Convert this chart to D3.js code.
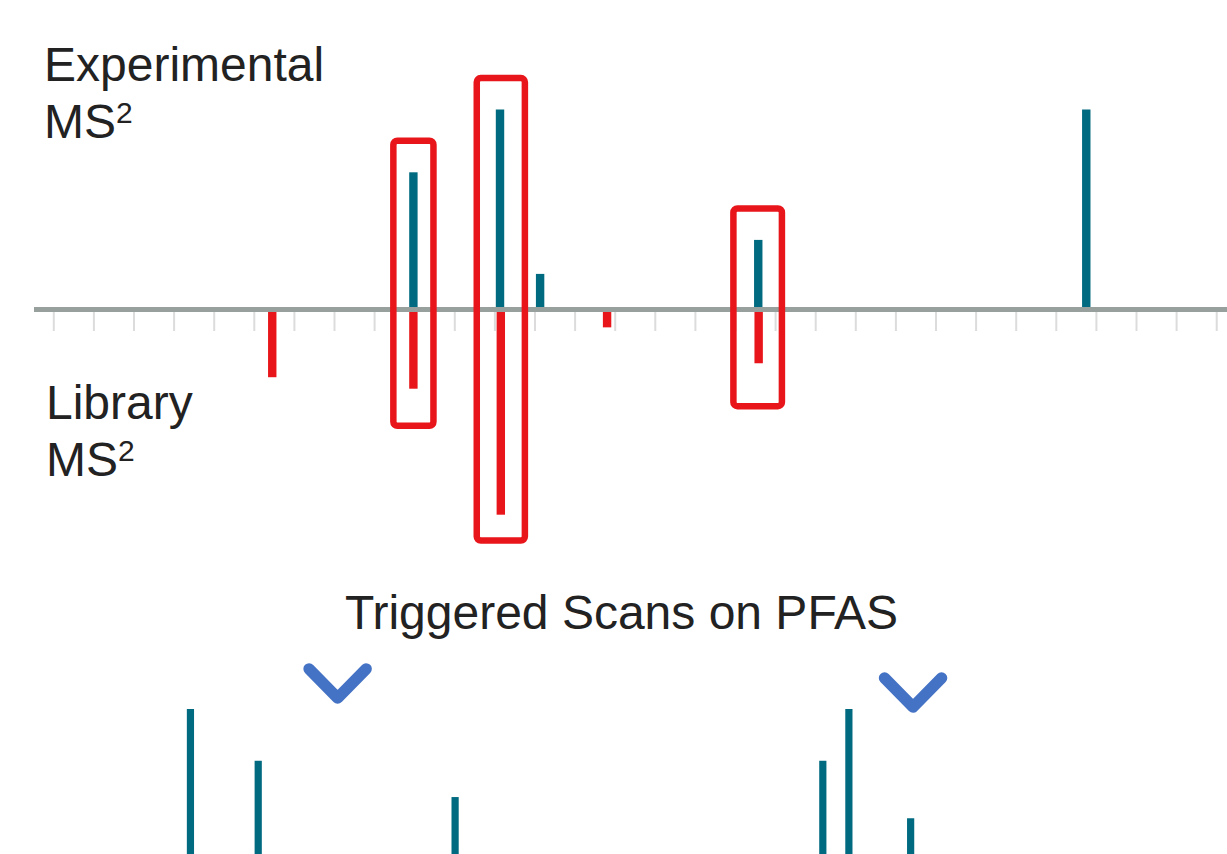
<!DOCTYPE html>
<html>
<head>
<meta charset="utf-8">
<script src="https://cdn.jsdelivr.net/npm/d3@7"></script>
<style>
  body { margin: 0; background: #fff; }
  svg { display: block; font-family: "Liberation Sans", Arial, sans-serif; }
</style>
</head>
<body>
<div class="chart-container"></div>
<script>
// m/z axis ticks
const tickValues = d3.range(50, 350, 10);

// experimental MS2 peaks (relative intensity, top)
const expMz = [139.8, 161.4, 171.4, 225.8, 307.6];
const expInt = [68.6, 100, 17.8, 34.8, 100];

// library MS2 peaks (relative intensity, mirrored below)
const libMz = [104.6, 139.8, 161.6, 188.1, 225.9];
const libInt = [33.0, 38.6, 100, 8.7, 26.2];

// matched peak highlight boxes: m/z range, top (exp units), bottom (lib units)
const boxLo = [134.8, 155.6, 219.6];
const boxHi = [144.8, 167.6, 231.7];
const boxTop = [84.4, 115.7, 50.5];
const boxBottom = [56.7, 112.6, 47.1];

// triggered scans panel
const scanMz = [84.2, 101.1, 150.2, 241.9, 248.4, 263.8];
const scanInt = [100, 72.9, 53.9, 72.9, 100, 42.8];
const chevronMz = [120.9, 264.4];
const chevronLevel = [105.8, 101.0];

const width = 1227, height = 854;
const teal = "#006a80", red = "#e8161b", blue = "#4472c4";

const svg = d3.select(".chart-container")
    .append("svg")
    .attr("width", width)
    .attr("height", height);

const x = d3.scaleLinear().domain([50, 340]).range([53.3, 53.3 + 40.1 * 29]);
const yExp = d3.scaleLinear().domain([0, 100]).range([309.5, 109.5]);
const yLib = d3.scaleLinear().domain([0, 100]).range([309.5, 514.7]);
const yScan = d3.scaleLinear().domain([0, 100]).range([900, 709]);

// tick marks under the axis
svg.append("g")
    .attr("transform", "translate(0,312)")
    .call(d3.axisBottom(x).tickValues(tickValues).tickSize(19).tickFormat(""))
    .call(g => g.select(".domain").remove())
    .call(g => g.selectAll(".tick line").attr("stroke", "#dcdcdc").attr("stroke-width", 2));

// experimental bars
svg.append("g")
    .selectAll("rect")
    .data(expMz)
    .join("rect")
    .attr("x", d => x(d) - 4.2)
    .attr("width", 8.4)
    .attr("y", (d, i) => yExp(expInt[i]))
    .attr("height", (d, i) => yExp(0) - yExp(expInt[i]))
    .attr("fill", teal);

// library bars
svg.append("g")
    .selectAll("rect")
    .data(libMz)
    .join("rect")
    .attr("x", d => x(d) - 4.2)
    .attr("width", 8.4)
    .attr("y", yLib(0))
    .attr("height", (d, i) => yLib(libInt[i]) - yLib(0))
    .attr("fill", red);

// axis line
svg.append("line")
    .attr("x1", 34).attr("x2", width)
    .attr("y1", yExp(0)).attr("y2", yExp(0))
    .attr("stroke", "#98a09e")
    .attr("stroke-width", 4.8);

// highlight boxes
svg.append("g")
    .selectAll("rect")
    .data(boxLo)
    .join("rect")
    .attr("x", d => x(d))
    .attr("width", (d, i) => x(boxHi[i]) - x(d))
    .attr("y", (d, i) => yExp(boxTop[i]))
    .attr("height", (d, i) => yLib(boxBottom[i]) - yExp(boxTop[i]))
    .attr("rx", 4)
    .attr("fill", "none")
    .attr("stroke", red)
    .attr("stroke-width", 6.5);

// labels
function label(txt, xPos, yPos) {
    const t = svg.append("text")
        .attr("x", xPos)
        .attr("y", yPos)
        .attr("font-size", 48)
        .attr("fill", "#222");
    t.append("tspan").text(txt);
    t.append("tspan").attr("x", xPos).attr("dy", 57).text("MS");
    t.append("tspan").attr("font-size", 30).attr("dy", -15).text("2");
}
label("Experimental", 44, 81);
label("Library", 46, 419);

svg.append("text")
    .attr("x", 621.5)
    .attr("y", 629)
    .attr("text-anchor", "middle")
    .attr("font-size", 48)
    .attr("fill", "#222")
    .text("Triggered Scans on PFAS");

// triggered scan bars
svg.append("g")
    .selectAll("rect")
    .data(scanMz)
    .join("rect")
    .attr("x", d => x(d) - 3.6)
    .attr("width", 7.2)
    .attr("y", (d, i) => yScan(scanInt[i]))
    .attr("height", (d, i) => yScan(0) - yScan(scanInt[i]))
    .attr("fill", teal);

// chevrons
svg.append("g")
    .selectAll("path")
    .data(chevronMz)
    .join("path")
    .attr("d", (d, i) => {
        const cx = x(d), cy = yScan(chevronLevel[i]);
        return `M${cx - 28.5},${cy - 29}L${cx},${cy}L${cx + 28.5},${cy - 29}`;
    })
    .attr("fill", "none")
    .attr("stroke", blue)
    .attr("stroke-width", 11.5)
    .attr("stroke-linecap", "round")
    .attr("stroke-linejoin", "round");
</script>
</body>
</html>
